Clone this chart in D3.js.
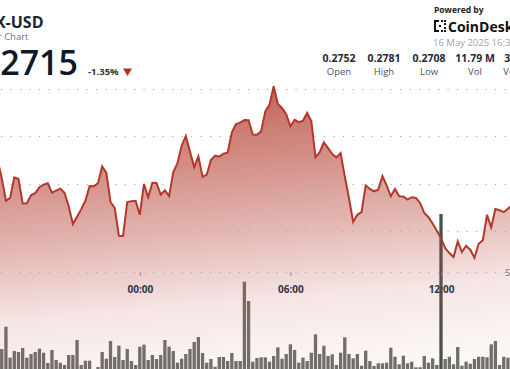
<!DOCTYPE html>
<html>
<head>
<meta charset="utf-8">
<script src="https://cdn.jsdelivr.net/npm/d3@7"></script>
<style>
  html, body { margin: 0; padding: 0; background: #fff; }
  svg { display: block; font-family: "Open Sans", "Noto Sans", sans-serif; }
</style>
</head>
<body>
<svg id="chart" width="510" height="369"></svg>
<script>
// 10 minute candles, first one at 15 May 18:20
const startTime = new Date(2025, 4, 15, 18, 20);
const stepMinutes = 10;

// close price per 10 min step
const prices = [
  0.27500, 0.27424, 0.27328, 0.27340, 0.27427, 0.27420, 0.27317, 0.27318, 0.27351, 0.27360,
  0.27385, 0.27396, 0.27402, 0.27362, 0.27371, 0.27379, 0.27362, 0.27305, 0.27230, 0.27261,
  0.27293, 0.27328, 0.27390, 0.27389, 0.27402, 0.27473, 0.27446, 0.27323, 0.27298, 0.27181,
  0.27180, 0.27323, 0.27326, 0.27328, 0.27269, 0.27399, 0.27343, 0.27404, 0.27403, 0.27354,
  0.27372, 0.27348, 0.27448, 0.27487, 0.27560, 0.27601, 0.27536, 0.27469, 0.27515, 0.27429,
  0.27438, 0.27500, 0.27518, 0.27514, 0.27526, 0.27531, 0.27616, 0.27651, 0.27657, 0.27668,
  0.27667, 0.27607, 0.27606, 0.27621, 0.27705, 0.27733, 0.27810, 0.27736, 0.27719, 0.27693,
  0.27642, 0.27669, 0.27659, 0.27665, 0.27698, 0.27664, 0.27511, 0.27533, 0.27574, 0.27550,
  0.27525, 0.27511, 0.27529, 0.27431, 0.27340, 0.27239, 0.27269, 0.27280, 0.27393, 0.27378,
  0.27368, 0.27375, 0.27432, 0.27393, 0.27347, 0.27378, 0.27347, 0.27346, 0.27333, 0.27343,
  0.27340, 0.27319, 0.27277, 0.27259, 0.27232, 0.27202, 0.27171, 0.27129, 0.27108, 0.27091,
  0.27157, 0.27112, 0.27139, 0.27122, 0.27088, 0.27147, 0.27162, 0.27269, 0.27216, 0.27293,
  0.27288, 0.27280, 0.27295, 0.27310
];

// volume per step (thousand tokens)
const volumes = [
  150, 210, 433, 123, 190, 180, 220, 123, 160, 180,
  213, 173, 70, 200, 100, 73, 50, 150, 150, 300,
  50, 93, 93, 5, 30, 180, 113, 290, 130, 243,
  100, 210, 90, 50, 233, 253, 100, 150, 110, 150,
  300, 233, 190, 73, 113, 160, 210, 280, 330, 170,
  73, 110, 33, 130, 130, 90, 170, 90, 90, 883,
  690, 83, 120, 127, 127, 83, 140, 227, 113, 160,
  257, 200, 73, 123, 90, 173, 357, 160, 243, 140,
  157, 50, 173, 327, 160, 117, 160, 43, 193, 90,
  40, 67, 67, 73, 223, 133, 57, 143, 67, 83,
  27, 27, 140, 73, 117, 50, 1560, 110, 133, 57,
  230, 43, 83, 63, 110, 133, 133, 127, 257, 290,
  50, 133, 123, 150
];

const highlightTime = new Date(2025, 4, 16, 12, 0);
const priceTicks = [0.2720, 0.2740, 0.2760, 0.2780];
const timeTicks = [new Date(2025, 4, 16, 0, 0), new Date(2025, 4, 16, 6, 0), new Date(2025, 4, 16, 12, 0)];

const statValues = ['0.2752', '0.2781', '0.2708', '11.79 M', '3.21 M'];
const statLabels = ['Open', 'High', 'Low', 'Vol', 'Vol USD'];

const data = prices.map((p, i) => ({
  time: d3.timeMinute.offset(startTime, i * stepMinutes),
  price: p,
  volume: volumes[i]
}));

const W = 510, H = 369;
const svg = d3.select('#chart');

// scales
const x = d3.scaleTime().domain([timeTicks[0], timeTicks[2]]).range([139.8, 441]);
const y = d3.scaleLinear().domain([0.2720, 0.2780]).range([231.2, 88.7]);
const yVol = d3.scaleLinear().domain([0, 1000]).range([370, 270]);
const areaBottom = 372;

// gradient for the area under the price line
const defs = svg.append('defs');
const grad = defs.append('linearGradient')
  .attr('id', 'areaGrad')
  .attr('gradientUnits', 'userSpaceOnUse')
  .attr('x1', 0).attr('y1', 83).attr('x2', 0).attr('y2', areaBottom)
  .attr('gradientTransform', 'rotate(-5, 255, 226)');
[[0, 0.86], [0.5, 0.4], [0.75, 0.14], [1, 0.04]].forEach(([o, a]) => {
  grad.append('stop').attr('offset', o).attr('stop-color', 'rgb(184,72,60)').attr('stop-opacity', a);
});

// volume bars
const barW = 3.3;
svg.append('g')
  .selectAll('rect')
  .data(data)
  .join('rect')
  .attr('x', d => x(d.time) - barW / 2)
  .attr('y', d => yVol(d.volume))
  .attr('width', barW)
  .attr('height', d => yVol(0) - yVol(d.volume))
  .attr('fill', d => +d.time === +highlightTime ? '#45524b' : '#6c716b');

// area + line
const area = d3.area()
  .x(d => x(d.time))
  .y0(areaBottom)
  .y1(d => y(d.price));

const line = d3.line()
  .x(d => x(d.time))
  .y(d => y(d.price));

svg.append('path')
  .datum(data)
  .attr('d', area)
  .attr('fill', 'url(#areaGrad)');

// dotted price gridlines
svg.append('g')
  .selectAll('line')
  .data(priceTicks)
  .join('line')
  .attr('x1', 0).attr('x2', W)
  .attr('y1', d => Math.round(y(d)) + 0.5)
  .attr('y2', d => Math.round(y(d)) + 0.5)
  .attr('stroke', '#a8a8a8')
  .attr('stroke-width', 1)
  .attr('stroke-dasharray', '1.2 8.3')
  .attr('stroke-dashoffset', -1);

svg.append('path')
  .datum(data)
  .attr('d', line)
  .attr('fill', 'none')
  .attr('stroke', '#b3382b')
  .attr('stroke-width', 2)
  .attr('stroke-linejoin', 'miter');

// time axis
const axisY = 272.5;
svg.append('line')
  .attr('x1', 0).attr('x2', W)
  .attr('y1', axisY).attr('y2', axisY)
  .attr('stroke', '#a8a8a8')
  .attr('stroke-dasharray', '1.2 8.3')
  .attr('stroke-dashoffset', -1);

const xAxis = svg.append('g')
  .attr('transform', `translate(0,${axisY})`)
  .call(d3.axisBottom(x).tickValues(timeTicks).tickFormat(d3.timeFormat('%H:%M')).tickSize(3).tickPadding(10));
xAxis.select('.domain').remove();
xAxis.selectAll('line').attr('stroke', '#777');
xAxis.selectAll('text')
  .attr('fill', '#2d3748')
  .style('font-size', '10px')
  .style('font-weight', 700)
  .style('font-family', '"Open Sans", sans-serif');

svg.append('text')
  .attr('x', 505).attr('y', axisY + 3.5)
  .attr('fill', '#6b7280')
  .style('font-size', '9.5px')
  .text('5M');

// header, left
svg.append('text')
  .attr('x', 43.5).attr('y', 27.5)
  .attr('text-anchor', 'end')
  .attr('fill', '#1b2333')
  .style('font-size', '16px').style('font-weight', 700)
  .text('TRX-USD');

svg.append('text')
  .attr('x', 28.5).attr('y', 40)
  .attr('text-anchor', 'end')
  .attr('fill', '#6b7280')
  .style('font-size', '9.5px')
  .text('24 Hour Chart');

svg.append('text')
  .attr('x', 78).attr('y', 75)
  .attr('text-anchor', 'end')
  .attr('fill', '#111827')
  .style('font-size', '34px').style('font-weight', 600)
  .text('0.2715');

svg.append('text')
  .attr('x', 88).attr('y', 75)
  .attr('fill', '#333')
  .style('font-size', '9.5px').style('font-weight', 700)
  .text('-1.35%');

svg.append('path')
  .attr('d', 'M123,68.5 L132,68.5 L127.5,76 Z')
  .attr('fill', '#b32d1f');

// header, right
svg.append('text')
  .attr('x', 434).attr('y', 13)
  .attr('fill', '#222')
  .style('font-size', '8.5px').style('font-weight', 700)
  .text('Powered by');

const logo = svg.append('g').attr('transform', 'translate(434,20)').attr('fill', '#111');
logo.append('rect').attr('x', 0).attr('y', 0).attr('width', 2).attr('height', 12);
logo.append('rect').attr('x', 0).attr('y', 0).attr('width', 5).attr('height', 2);
logo.append('rect').attr('x', 0).attr('y', 10).attr('width', 5).attr('height', 2);
[[7, 0], [10, 0], [10, 3], [7, 10], [10, 10], [10, 7], [5, 5]].forEach(([dx, dy]) => {
  logo.append('rect').attr('x', dx).attr('y', dy).attr('width', 2).attr('height', 2);
});

svg.append('text')
  .attr('x', 448).attr('y', 31.5)
  .attr('fill', '#111')
  .style('font-size', '14px').style('font-weight', 700)
  .text('CoinDesk');

svg.append('text')
  .attr('x', 433).attr('y', 46)
  .attr('fill', '#9ca3af')
  .style('font-size', '9.5px')
  .text('16 May 2025 16:39');

const statX = [339, 384, 429, 475, 521];
statValues.forEach((v, i) => {
  svg.append('text')
    .attr('x', statX[i]).attr('y', 62)
    .attr('text-anchor', 'middle')
    .attr('fill', '#1f2937')
    .style('font-size', '10.5px').style('font-weight', 700)
    .text(v);
  svg.append('text')
    .attr('x', statX[i]).attr('y', 75)
    .attr('text-anchor', 'middle')
    .attr('fill', '#4b5563')
    .style('font-size', '9.5px')
    .text(statLabels[i]);
});
</script>
</body>
</html>
